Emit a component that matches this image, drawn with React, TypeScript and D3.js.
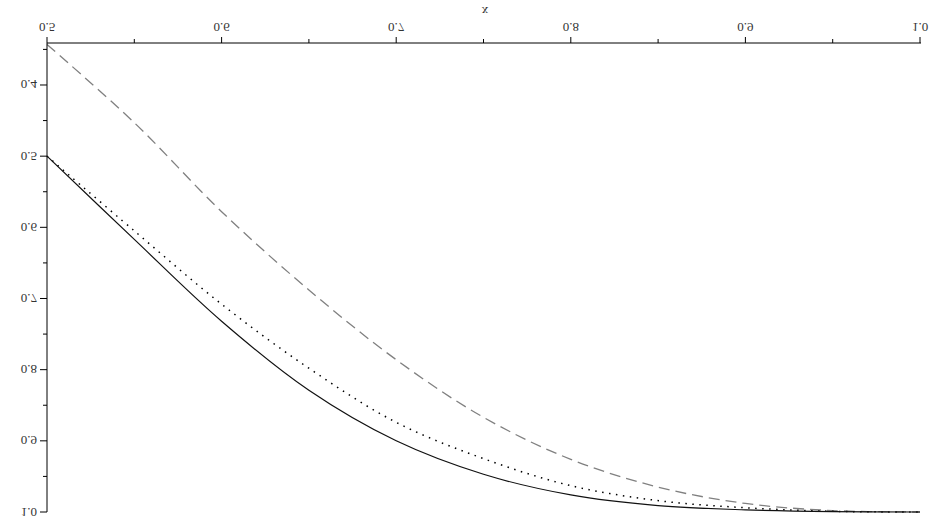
import React from "react";
import * as d3 from "d3";

const xValues = [0.5, 0.55, 0.6, 0.65, 0.7, 0.75, 0.8, 0.85, 0.9, 0.95, 1.0];
const solidValues = [0.5, 0.617, 0.732, 0.829, 0.9, 0.947, 0.976, 0.991, 0.997, 0.9995, 1.0];
const dottedValues = [0.5, 0.605, 0.708, 0.798, 0.874, 0.925, 0.963, 0.984, 0.994, 0.999, 1.0];
const dashedValues = [0.343, 0.453, 0.578, 0.688, 0.786, 0.867, 0.926, 0.965, 0.988, 0.998, 1.0];

const xTickLabels = ["0.5", "0.6", "0.7", "0.8", "0.9", "1.0"];
const yTickLabels = ["0.4", "0.5", "0.6", "0.7", "0.8", "0.9", "1.0"];
const xMinorTicks = [0.55, 0.65, 0.75, 0.85, 0.95];
const yMinorTicks = [0.35, 0.45, 0.55, 0.65, 0.75, 0.85, 0.95];

export default function App() {
  const W = 936, H = 525;
  const x = d3.scaleLinear().domain([0.5, 1.0]).range([47, 920]);
  const y = d3.scaleLinear().domain([0.341, 1.0]).range([43, 512]);
  const line = (vals: number[]) =>
    d3
      .line<number>()
      .x((_, i) => x(xValues[i]))
      .y((d) => y(d))
      .curve(d3.curveCatmullRom.alpha(0.5))(vals) as string;
  const font = "'Liberation Serif', 'DejaVu Serif', serif";
  const txtColor = "#333";
  const axisY = y.range()[0];
  const axisX = x.range()[0];
  return (
    <svg
      width={W}
      height={H}
      style={{ position: "absolute", left: 0, top: 0, background: "#fff" }}
    >
      <rect x={0} y={0} width={W} height={H} fill="#fff" />
      {/* curves */}
      <path d={line(dashedValues)} fill="none" stroke="#808080" strokeWidth={1.3} strokeDasharray="11,6" />
      <path d={line(dottedValues)} fill="none" stroke="#000" strokeWidth={1.5} strokeDasharray="1.5,5.5" />
      <path d={line(solidValues)} fill="none" stroke="#111" strokeWidth={1.2} />
      {/* x axis */}
      <line x1={axisX} x2={x(1.0) + 1} y1={axisY} y2={axisY} stroke="#000" strokeWidth={1} />
      {xTickLabels.map((t) => {
        const v = +t;
        return (
          <g key={t}>
            <line x1={x(v)} x2={x(v)} y1={axisY} y2={axisY - 6} stroke="#000" />
            <text
              transform={`translate(${x(v)},23) scale(1,-1)`}
              textAnchor="middle"
              fontFamily={font}
              fontSize={13}
              fill={txtColor}
            >
              {t}
            </text>
          </g>
        );
      })}
      {xMinorTicks.map((v) => (
        <line key={v} x1={x(v)} x2={x(v)} y1={axisY} y2={axisY - 4} stroke="#000" />
      ))}
      <text
        transform={`translate(485,7) scale(1,-1)`}
        textAnchor="middle"
        fontFamily={font}
        fontSize={13}
        fill={txtColor}
      >
        x
      </text>
      {/* y axis */}
      <line x1={axisX} x2={axisX} y1={axisY} y2={y(1.0)} stroke="#000" strokeWidth={1} />
      {yTickLabels.map((t) => {
        const v = +t;
        return (
          <g key={t}>
            <line x1={axisX} x2={axisX - 7} y1={y(v)} y2={y(v)} stroke="#000" />
            <text
              transform={`translate(37,${y(v) - 4.5}) scale(1,-1)`}
              textAnchor="end"
              fontFamily={font}
              fontSize={13}
              fill={txtColor}
            >
              {t}
            </text>
          </g>
        );
      })}
      {yMinorTicks.map((v) => (
        <line key={v} x1={axisX} x2={axisX - 4} y1={y(v)} y2={y(v)} stroke="#000" />
      ))}
    </svg>
  );
}
